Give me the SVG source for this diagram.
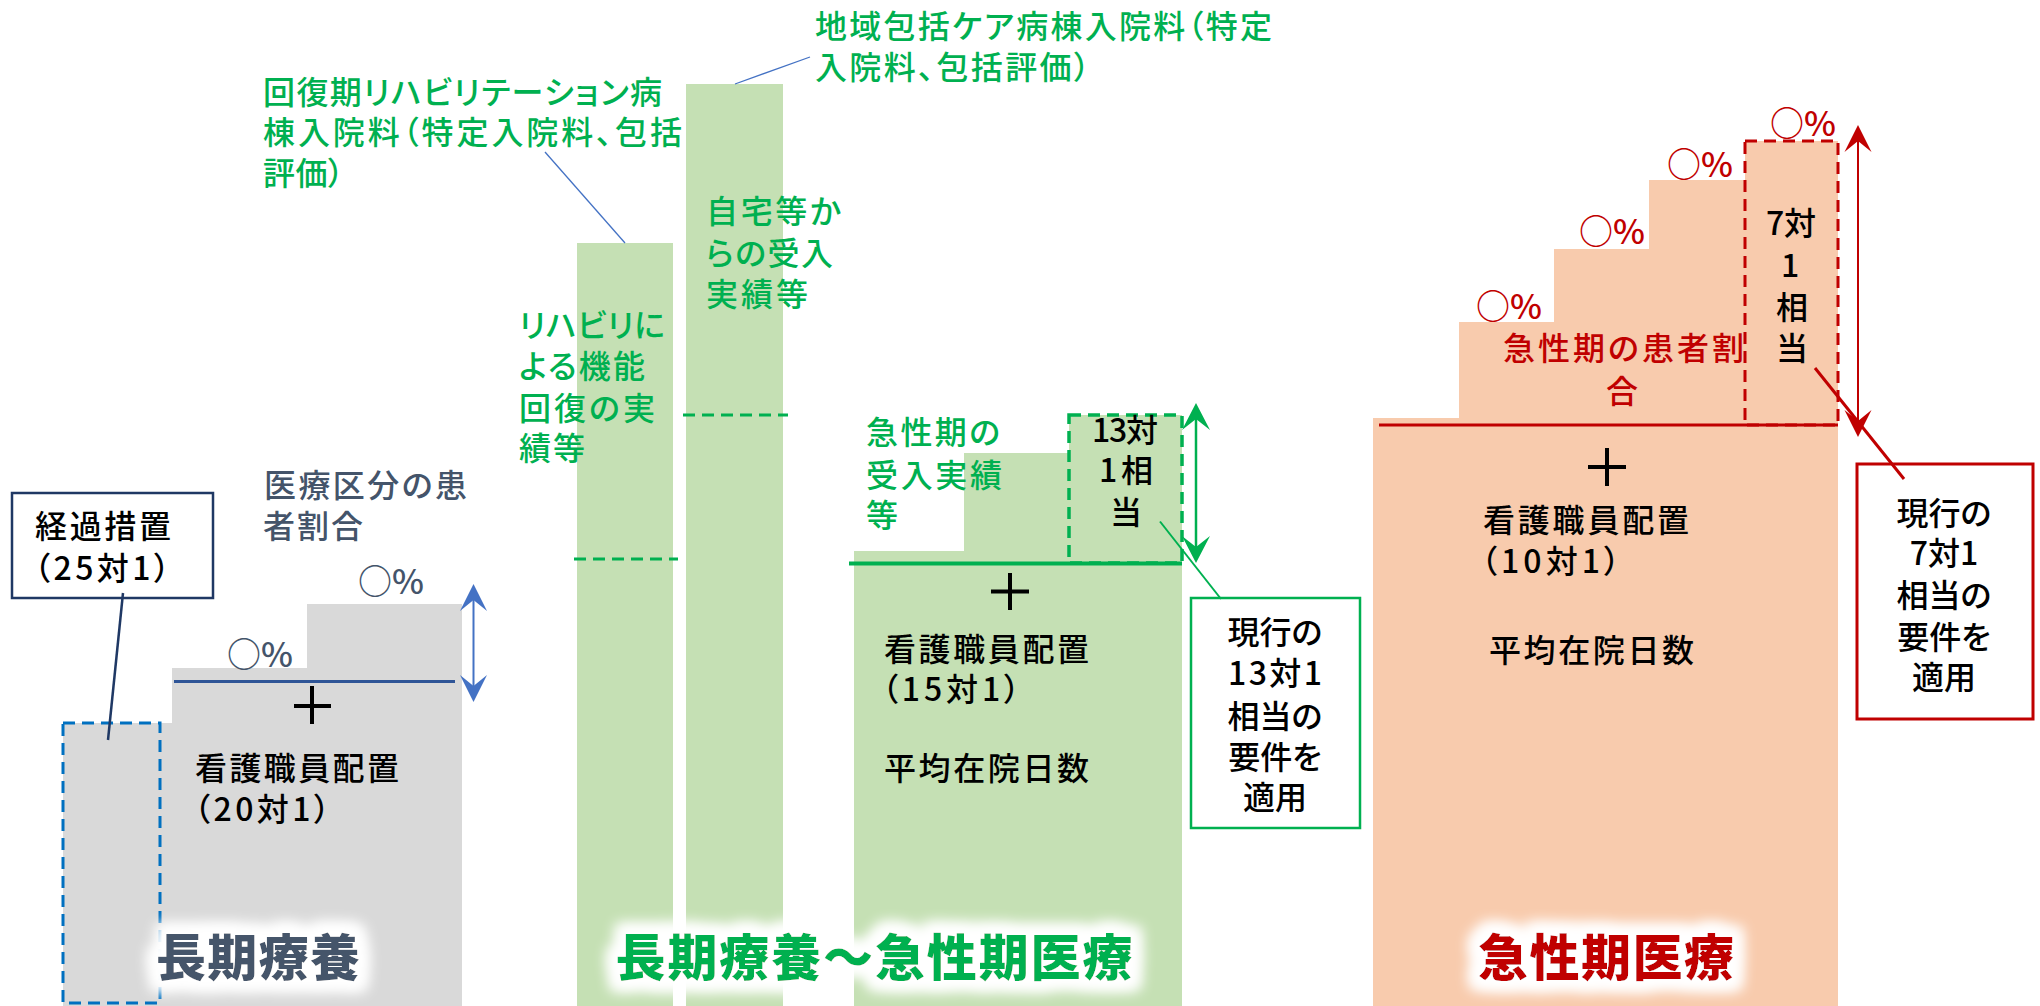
<svg xmlns="http://www.w3.org/2000/svg" width="2040" height="1006" viewBox="0 0 2040 1006">
<defs>
<style>
text{font-family:"Noto Sans CJK JP","Noto Sans",sans-serif;font-size:32px;font-weight:500;font-feature-settings:"palt"}
.g{fill:#00B050}.r{fill:#C00000}.k{fill:#000}.s{fill:#44546A}
.m{text-anchor:middle}
.pc{font-size:34px}
.ttl{font-size:50px;font-weight:900}
.pl{stroke:#000;stroke-width:4}
</style>
<filter id="glow" x="-15%" y="-60%" width="130%" height="220%">
<feMorphology in="SourceAlpha" operator="dilate" radius="9" result="d"/>
<feGaussianBlur in="d" stdDeviation="7" result="b"/>
<feFlood flood-color="#fff" result="w"/>
<feComposite in="w" in2="b" operator="in" result="gl"/>
<feMerge><feMergeNode in="gl"/><feMergeNode in="gl"/><feMergeNode in="SourceGraphic"/></feMerge>
</filter>
<marker id="ab" viewBox="-20 -16 32 32" markerWidth="32" markerHeight="32" refX="0" refY="0" orient="auto-start-reverse" markerUnits="userSpaceOnUse"><path d="M10,0 L-17,-13.5 L-6,0 L-17,13.5 Z" fill="#4472C4"/></marker>
<marker id="ag" viewBox="-20 -16 32 32" markerWidth="32" markerHeight="32" refX="0" refY="0" orient="auto-start-reverse" markerUnits="userSpaceOnUse"><path d="M10,0 L-17,-14 L-6,0 L-17,14 Z" fill="#00B050"/></marker>
<marker id="ar" viewBox="-20 -16 32 32" markerWidth="32" markerHeight="32" refX="0" refY="0" orient="auto-start-reverse" markerUnits="userSpaceOnUse"><path d="M10,0 L-17,-13.5 L-6,0 L-17,13.5 Z" fill="#C00000"/></marker>
</defs>
<rect width="2040" height="1006" fill="#fff"/>

<g id="long-term-care">
<polygon points="63,723 172,723 172,668 307,668 307,604 462,604 462,1006 63,1006" fill="#D9D9D9"/>
<rect x="63" y="723" width="97" height="280" fill="none" stroke="#0070C0" stroke-width="3" stroke-dasharray="12 7"/>
<line x1="174" y1="681.5" x2="455" y2="681.5" stroke="#2F5597" stroke-width="3"/>
<line class="pl" x1="294" y1="706" x2="331" y2="706"/><line class="pl" x1="312" y1="686" x2="312" y2="724"/>
<text class="s" x="264" y="497" textLength="203">医療区分の患</text>
<text class="s" x="263" y="538" textLength="100">者割合</text>
<text class="s pc" x="227" y="667">○%</text>
<text class="s pc" x="358" y="594">○%</text>
<text class="k" x="195" y="780" textLength="204">看護職員配置</text>
<text class="k" x="194" y="821" textLength="136">（20対1）</text>
<text class="s ttl m" x="258" y="976" filter="url(#glow)" textLength="204">長期療養</text>
</g>

<g id="transitional-measure">
<rect x="12" y="493" width="201" height="105" fill="#fff" stroke="#1F3864" stroke-width="2.5"/>
<text class="k" x="35" y="538" textLength="136">経過措置</text>
<text class="k" x="34" y="580" textLength="136">（25対1）</text>
</g>

<g id="rehab-ward">
<rect x="577" y="243" width="96" height="763" fill="#C5E0B4"/>
<line x1="574" y1="559" x2="678" y2="559" stroke="#00B050" stroke-width="3" stroke-dasharray="12 7"/>
<text class="g" x="263" y="104" textLength="399">回復期リハビリテーション病</text>
<text class="g" x="263" y="144" textLength="419">棟入院料（特定入院料、包括</text>
<text class="g" x="263" y="185" textLength="81">評価）</text>
<text class="g" x="519" y="337" textLength="146">リハビリに</text>
<text class="g" x="519" y="378" textLength="126">よる機能</text>
<text class="g" x="519" y="420" textLength="136">回復の実</text>
<text class="g" x="519" y="460" textLength="66">績等</text>
</g>

<g id="community-care-ward">
<rect x="686" y="84" width="97" height="922" fill="#C5E0B4"/>
<line x1="683" y1="415" x2="788" y2="415" stroke="#00B050" stroke-width="3" stroke-dasharray="12 7"/>
<text class="g" x="815" y="38" textLength="457">地域包括ケア病棟入院料（特定</text>
<text class="g" x="815" y="79" textLength="275">入院料、包括評価）</text>
<text class="g" x="706" y="223" textLength="135">自宅等か</text>
<text class="g" x="706" y="265" textLength="127">らの受入</text>
<text class="g" x="706" y="306" textLength="102">実績等</text>
</g>

<g id="acute-15">
<polygon points="854,551 964,551 964,453 1069,453 1069,415 1182,415 1182,1006 854,1006" fill="#C5E0B4"/>
<rect x="1069" y="415" width="113" height="148" fill="none" stroke="#00B050" stroke-width="3.5" stroke-dasharray="12 7"/>
<line x1="849" y1="563.5" x2="1182" y2="563.5" stroke="#00B050" stroke-width="4"/>
<line class="pl" x1="991" y1="591.5" x2="1029" y2="591.5"/><line class="pl" x1="1010" y1="573" x2="1010" y2="610"/>
<text class="g" x="866" y="444" textLength="134">急性期の</text>
<text class="g" x="866" y="487" textLength="136">受入実績</text>
<text class="g" x="866" y="527">等</text>
<text class="k m" x="1125" y="442" textLength="66">13対</text>
<text class="k m" x="1126" y="482" textLength="54">1相</text>
<text class="k m" x="1126" y="524">当</text>
<text class="k" x="884" y="661" textLength="205">看護職員配置</text>
<text class="k" x="882" y="701" textLength="138">（15対1）</text>
<text class="k" x="884" y="780" textLength="205">平均在院日数</text>
<text class="g ttl m" x="874" y="976" filter="url(#glow)" textLength="517">長期療養〜急性期医療</text>
</g>

<g id="note-13">
<rect x="1191" y="598" width="169" height="230" fill="#fff" stroke="#00B050" stroke-width="2.5"/>
<text class="k m" x="1275" y="644">現行の</text>
<text class="k m" x="1275" y="685" textLength="94">13対1</text>
<text class="k m" x="1275" y="728">相当の</text>
<text class="k m" x="1275" y="769">要件を</text>
<text class="k m" x="1275" y="809">適用</text>
</g>

<g id="acute-care">
<polygon points="1373,418 1459,418 1459,322 1554,322 1554,249 1649,249 1649,180 1745,180 1745,141 1838,141 1838,1006 1373,1006" fill="#F8CBAD"/>
<rect x="1745" y="141" width="93" height="284" fill="none" stroke="#C00000" stroke-width="3" stroke-dasharray="12 7"/>
<line x1="1379" y1="425" x2="1838" y2="425" stroke="#C00000" stroke-width="3"/>
<line class="pl" x1="1588" y1="467" x2="1626" y2="467"/><line class="pl" x1="1607" y1="448" x2="1607" y2="486"/>
<text class="r pc" x="1476" y="319">○%</text>
<text class="r pc" x="1579" y="244">○%</text>
<text class="r pc" x="1667" y="177">○%</text>
<text class="r pc" x="1770" y="136">○%</text>
<text class="r" x="1503" y="360" textLength="241">急性期の患者割</text>
<text class="r m" x="1622" y="403">合</text>
<text class="k m" x="1791" y="235">7対</text>
<text class="k m" x="1790" y="277">1</text>
<text class="k m" x="1792" y="319">相</text>
<text class="k m" x="1792" y="360">当</text>
<text class="k" x="1483" y="532" textLength="206">看護職員配置</text>
<text class="k" x="1481" y="573" textLength="139">（10対1）</text>
<text class="k" x="1489" y="662" textLength="205">平均在院日数</text>
<text class="r ttl m" x="1606" y="976" filter="url(#glow)" textLength="256">急性期医療</text>
</g>

<g id="note-7">
<rect x="1857" y="464" width="176" height="255" fill="#fff" stroke="#C00000" stroke-width="3"/>
<text class="k m" x="1944" y="525">現行の</text>
<text class="k m" x="1944" y="565">7対1</text>
<text class="k m" x="1944" y="607">相当の</text>
<text class="k m" x="1944" y="649">要件を</text>
<text class="k m" x="1944" y="689">適用</text>
</g>

<g id="connectors" fill="none">
<line x1="123" y1="593" x2="108" y2="740" stroke="#1F3864" stroke-width="2.5"/>
<line x1="545" y1="152" x2="625" y2="243" stroke="#4472C4" stroke-width="1.3"/>
<line x1="735" y1="84" x2="810" y2="57" stroke="#4472C4" stroke-width="1.3"/>
<line x1="473.5" y1="594" x2="473.5" y2="692" stroke="#4472C4" stroke-width="2" marker-start="url(#ab)" marker-end="url(#ab)"/>
<line x1="1196" y1="413" x2="1196" y2="553" stroke="#00B050" stroke-width="2.5" marker-start="url(#ag)" marker-end="url(#ag)"/>
<line x1="1160" y1="521.5" x2="1221" y2="599" stroke="#00B050" stroke-width="2"/>
<line x1="1858" y1="135" x2="1858" y2="427" stroke="#C00000" stroke-width="2" marker-start="url(#ar)" marker-end="url(#ar)"/>
<line x1="1815" y1="368" x2="1904" y2="479" stroke="#C00000" stroke-width="3"/>
</g>
</svg>
